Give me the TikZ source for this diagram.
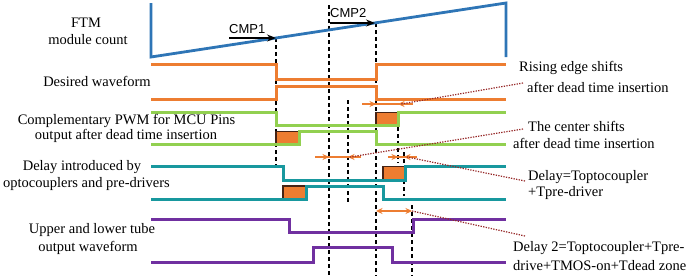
\documentclass[tikz,border=0pt]{standalone}
\usepackage{fontspec}
\setmainfont{Liberation Serif}
\newfontfamily\cmpfont{Liberation Sans}
\usetikzlibrary{arrows.meta}
\definecolor{ftmblue}{RGB}{46,117,182}
\definecolor{wforange}{RGB}{237,125,49}
\definecolor{wfgreen}{RGB}{146,208,80}
\definecolor{wfteal}{RGB}{24,152,158}
\definecolor{wfpurple}{RGB}{112,48,160}
\definecolor{boxedge}{RGB}{70,35,20}
\definecolor{leadred}{RGB}{150,40,40}
\tikzset{
  lbl/.style={font=\fontsize{14.5}{16}\selectfont, inner sep=0pt, anchor=center},
  rlbl/.style={font=\fontsize{14.5}{16}\selectfont, inner sep=0pt, anchor=west},
  cmplbl/.style={font=\cmpfont\fontsize{13}{14}\selectfont, inner sep=0pt, anchor=west},
  wave/.style={line width=3pt, line join=miter},
  guide/.style={black, line width=1.3pt, dash pattern=on 4pt off 3pt},
  deadbox/.style={fill=wforange},
  boxline/.style={boxedge, line width=1.6pt},
  dimline/.style={wforange, line width=1.1pt},
  dimarrow/.style={wforange, line width=1.1pt, -{Stealth[length=6.5pt,width=6pt]}},
  dimboth/.style={wforange, line width=1.1pt, {Stealth[length=6.5pt,width=6pt]}-{Stealth[length=6.5pt,width=6pt]}},
  leader/.style={leadred, line width=1.2pt, dash pattern=on 1.3pt off 1.3pt},
  cmparrow/.style={black, line width=1.4pt, -{Stealth[length=9pt,width=7pt]}}
}
\begin{document}
\begin{tikzpicture}[x=1pt,y=-1pt]
\useasboundingbox (0,0) rectangle (690,276);

% guide dashed lines
\draw[guide] (276,38) -- (276,165);
\draw[guide] (329,5) -- (329,276);
\draw[guide] (348,100) -- (348,203);
\draw[guide] (376,23) -- (376,276);
\draw[guide] (398,113) -- (398,163);
\draw[guide] (404,152) -- (404,196);
\draw[guide] (412,205) -- (412,276);

% FTM counter
\draw[wave, ftmblue, line width=2.8pt] (151,3) -- (151,57) -- (506,3) -- (506,57);

% CMP arrows
\coordinate (cmp1pt) at (276,38);
\coordinate (cmp2pt) at (375,23);
\node[cmplbl] (cmp1) at (229,29) {CMP1};
\node[cmplbl] (cmp2) at (330,13) {CMP2};
\draw[cmparrow] (cmp1.south west |- cmp1pt) -- (cmp1pt);
\draw[cmparrow] (cmp2.south west |- cmp2pt) -- (cmp2pt);

% dead-time boxes
\fill[deadbox] (376,112.5) rectangle (398,125.5);
\fill[deadbox] (276,131.5) rectangle (299,144);
\fill[deadbox] (383,166.5) rectangle (405,180);
\fill[deadbox] (283,186) rectangle (306,199);
\draw[boxline] (376,125) -- (376,112.5) -- (397,112.5);
\draw[boxline] (276,143.5) -- (276,131.5) -- (298,131.5);
\draw[boxline] (383,179.5) -- (383,166.5) -- (404,166.5);
\draw[boxline] (283,198.5) -- (283,186) -- (305,186);

% desired waveform
\draw[wave, wforange] (151,64) -- (276,64) -- (276,79) -- (376,79) -- (376,64) -- (506,64);
\draw[wave, wforange] (151,99) -- (276,99) -- (276,86) -- (376,86) -- (376,99) -- (506,99);
% complementary PWM
\draw[wave, wfgreen] (151,112) -- (276,112) -- (276,125.5) -- (398,125.5) -- (398,112) -- (506,112);
\draw[wave, wfgreen] (151,144) -- (299,144) -- (299,131.5) -- (376,131.5) -- (376,144) -- (506,144);
% delayed
\draw[wave, wfteal] (151,166.5) -- (283,166.5) -- (283,180) -- (405,180) -- (405,166.5) -- (506,166.5);
\draw[wave, wfteal] (151,199) -- (306,199) -- (306,186) -- (383,186) -- (383,199) -- (506,199);
% output
\draw[wave, wfpurple] (151,219) -- (289,219) -- (289,232.5) -- (413,232.5) -- (413,219) -- (506,219);
\draw[wave, wfpurple] (151,262) -- (313,262) -- (313,247) -- (392,247) -- (392,262) -- (506,262);

% dimension arrows
\draw[dimline] (362,104) -- (413,104);
\draw[dimarrow] (362,104) -- (376,104);
\draw[dimarrow] (413,104) -- (398,104);
\draw[dimline] (315,157) -- (361,157);
\draw[dimarrow] (315,157) -- (329,157);
\draw[dimarrow] (361,157) -- (348,157);
\draw[dimline] (388,157) -- (417,157);
\draw[dimarrow] (388,157) -- (398,157);
\draw[dimarrow] (417,157) -- (404,157);
\draw[dimboth] (376,211) -- (412,211);

% left labels
\node[lbl] (ftma) at (86,22.5) {FTM};
\node[lbl] (ftmb) at (88,39.5) {module count};
\node[lbl] (des) at (97,81) {Desired waveform};
\node[lbl] (cpa) at (126.5,121) {Complementary PWM for MCU Pins};
\node[lbl] (cpb) at (126,135.5) {output after dead time insertion};
\node[lbl] (dla) at (82,167) {Delay introduced by};
\node[lbl] (dlb) at (86.5,184) {optocouplers and pre-drivers};
\node[lbl] (upa) at (92,230) {Upper and lower tube};
\node[lbl] (upb) at (88,248) {output waveform};

% right labels
\node[rlbl] (ra) at (519,68) {Rising edge shifts};
\node[rlbl] (rb) at (527,87) {after dead time insertion};
\node[rlbl] (ca) at (528,126) {The center shifts};
\node[rlbl] (cb) at (513,143) {after dead time insertion};
\node[rlbl] (da) at (528,177) {Delay=Toptocoupler};
\node[rlbl] (db) at (528,193) {+Tpre-driver};
\node[rlbl] (ea) at (513,248) {Delay 2=Toptocoupler+Tpre-};
\node[rlbl] (eb) at (513,266) {drive+TMOS-on+Tdead zone};

% leaders
\coordinate (l1s) at (523,83);  \coordinate (l1e) at (401,104);
\coordinate (l2s) at (523,129); \coordinate (l2e) at (350,157);
\coordinate (l3s) at (525,181); \coordinate (l3e) at (407,157);
\coordinate (l4s) at (525,236); \coordinate (l4e) at (412,211);
\draw[leader] (l1s) -- (l1e);
\draw[leader] (l2s) -- (l2e);
\draw[leader] (l3s) -- (l3e);
\draw[leader] (l4s) -- (l4e);
\end{tikzpicture}
\end{document}
